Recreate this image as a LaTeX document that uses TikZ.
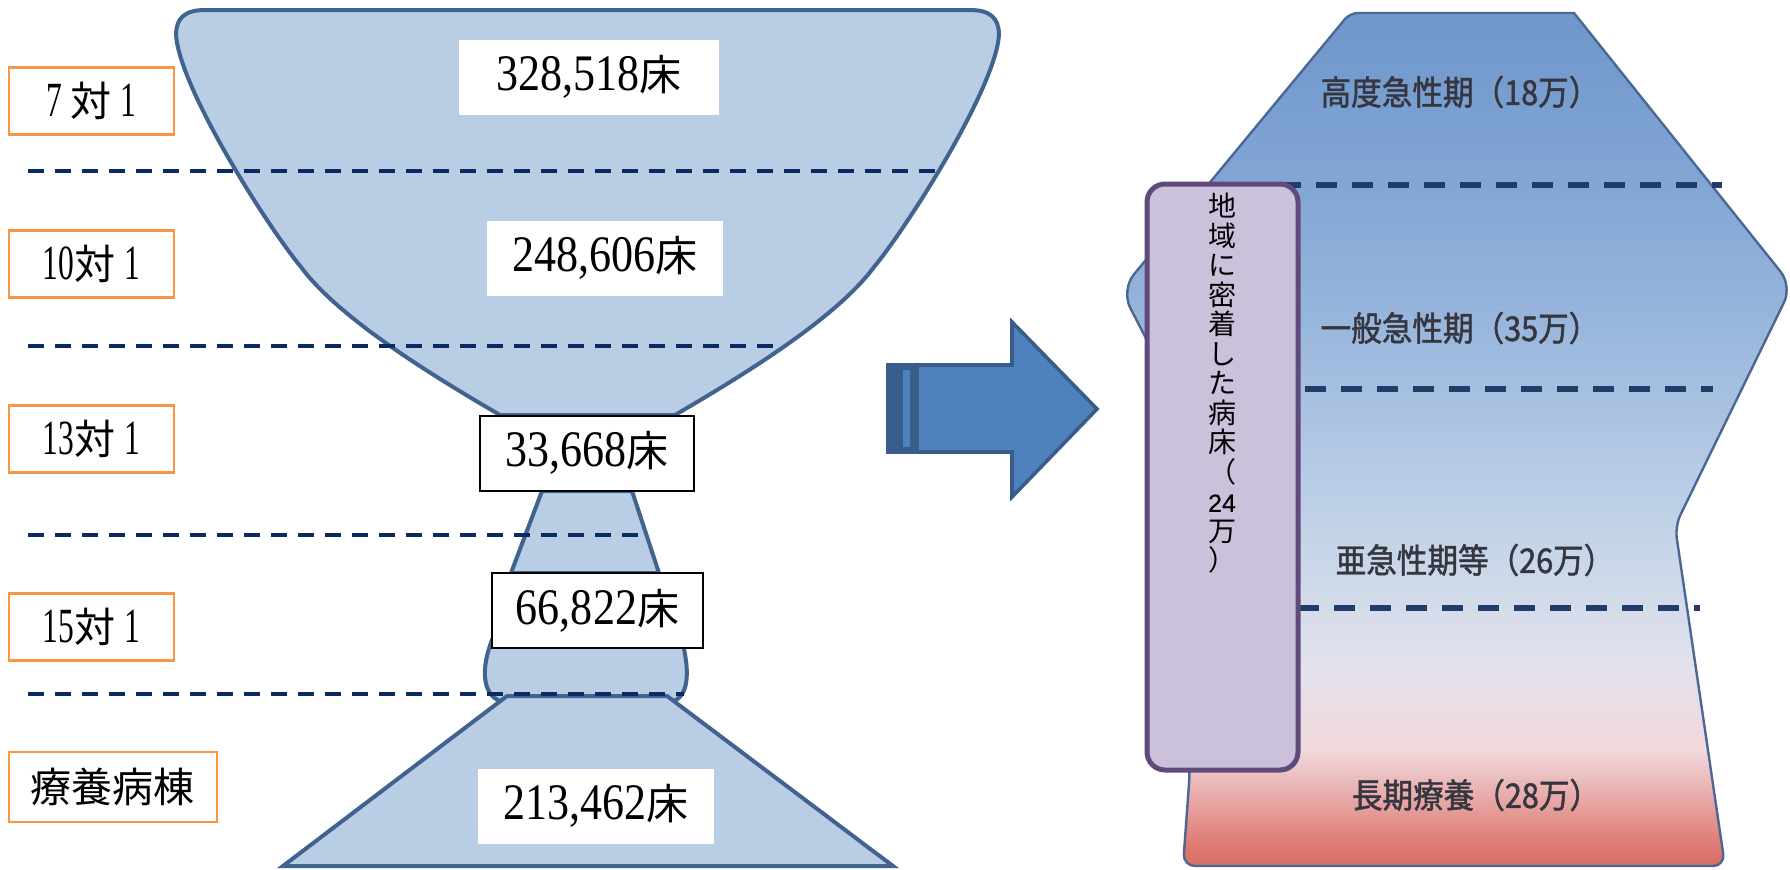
\documentclass[tikz,border=0pt]{standalone}
\usepackage{fontspec}
\setmainfont{Liberation Serif}
\newfontfamily\cjk{Noto Sans CJK JP}
\newfontfamily\numfont[Scale=1.22,FakeStretch=0.86]{Liberation Serif}
\newfontfamily\labnum[Scale=1.2,FakeStretch=0.64]{Liberation Serif}
\newfontfamily\stagefont[FakeStretch=0.9,FakeBold=1.4]{Noto Sans CJK JP}
\newfontfamily\arial[FakeBold=0.5]{Liberation Sans}
\usepackage{tikz}

\definecolor{cupfill}{HTML}{B9CDE5}
\definecolor{cupline}{HTML}{41638F}
\definecolor{navy}{HTML}{0B2A63}
\definecolor{wardline}{HTML}{F79646}
\definecolor{arrowfill}{HTML}{4F81BD}
\definecolor{arrowline}{HTML}{385D8A}
\definecolor{localfill}{HTML}{CCC1DA}
\definecolor{localline}{HTML}{604A7B}
\definecolor{stageline}{HTML}{1F3D68}
\definecolor{stagetext}{HTML}{35363F}
\definecolor{shapeline}{HTML}{4A6893}
\definecolor{bedA}{HTML}{6F97CC}
\definecolor{bedB}{HTML}{82A6D4}
\definecolor{bedC}{HTML}{9AB7DD}
\definecolor{bedD}{HTML}{C2D3E8}
\definecolor{bedE}{HTML}{E4E2EC}
\definecolor{bedF}{HTML}{F0D8DC}
\definecolor{bedG}{HTML}{E9B2B2}
\definecolor{bedH}{HTML}{DF8078}
\definecolor{bedI}{HTML}{D86C62}

\pgfdeclareverticalshading{bedshade}{100bp}{color(0bp)=(bedI); color(25bp)=(bedI);
  color(26.6bp)=(bedH); color(29.5bp)=(bedG); color(31.8bp)=(bedF);
  color(36.5bp)=(bedE); color(44.7bp)=(bedD); color(56.4bp)=(bedC);
  color(64.9bp)=(bedB); color(75bp)=(bedA); color(100bp)=(bedA)}

\newcommand\beds[1]{{\numfont #1}{\cjk 床}}

\tikzstyle{cupshape} = [fill=cupfill, draw=cupline, line width=2pt]
\tikzstyle{gridline} = [draw=navy, line width=2pt, dash pattern=on 8pt off 5.5pt]
\tikzstyle{wardbox} = [rectangle, draw=wardline, line width=1.2pt, fill=white,
                 minimum width=82.5pt, minimum height=33.5pt, inner sep=0pt,
                 font=\fontsize{20.5}{24}\selectfont]
\tikzstyle{bedcount} = [rectangle, fill=white, minimum height=37.5pt, inner sep=0pt,
                 font=\fontsize{21}{25}\selectfont]
\tikzstyle{bedframe} = [bedcount, draw=black, line width=1pt]
\tikzstyle{arrowbody} = [fill=arrowfill, draw=arrowline, line width=1.8pt]
\tikzstyle{bedshape} = [shading=bedshade, draw=shapeline, line width=1.2pt]
\tikzstyle{stageline} = [draw=stageline, line width=3pt, dash pattern=on 10.5pt off 7.5pt]
\tikzstyle{stagelabel} = [text=stagetext, inner sep=0pt,
                 font=\fontsize{17}{20}\selectfont\stagefont]
\tikzstyle{localbox} = [rectangle, rounded corners=9pt, fill=localfill, draw=localline,
                 line width=2.5pt, minimum width=75.5pt, minimum height=293pt]
\tikzstyle{localtext} = [anchor=north, align=center, inner sep=0pt,
                 font=\fontsize{14}{14.75}\selectfont\cjk]

\begin{document}
\begin{tikzpicture}[x=0.5pt,y=-0.5pt]
\useasboundingbox (0,0) rectangle (1790,869);
\fill [white] (0,0) rectangle (1790,869);

% present wards
\path [cupshape] (500,415) .. controls (440,380) and (340,320) .. (301,267)
   .. controls (270,230) and (180,90) .. (176,35)
   .. controls (176,18) and (185,10) .. (205,10) -- (970,10)
   .. controls (990,10) and (999,18) .. (999,35)
   .. controls (995,90) and (905,230) .. (874,267)
   .. controls (835,320) and (735,380) .. (675,415) -- cycle;
\path [cupshape] (542,491) -- (511,573) -- (659,573) -- (632,491) -- cycle;
\path [cupshape] (492,640) .. controls (481,668) and (482,694) .. (500,701)
   -- (674,701) .. controls (690,694) and (689,668) .. (682,640) -- cycle;
\path [cupshape] (507,696) -- (667,696) -- (893,866) -- (283,866) -- cycle;

\foreach \y/\x in {171/936, 346/776, 535/643, 694/684}
	\draw [gridline] (28,\y) -- (\x,\y);

\node [bedcount, minimum width=130pt] at (589,77) (n7) {\beds{328,518}};
\node [bedcount, minimum width=118pt] at (605,258) (n10) {\beds{248,606}};
\node [bedframe, minimum width=107pt] at (587,453) (n13) {\beds{33,668}};
\node [bedframe, minimum width=105.5pt] at (597.5,610.5) (n15) {\beds{66,822}};
\node [bedcount, minimum width=118pt] at (596,806) (nlt) {\beds{213,462}};

\foreach \y/\label in {101/{\labnum 7 \cjk 対 \labnum 1}, 264/{\labnum 10\cjk 対 \labnum 1},
                       439/{\labnum 13\cjk 対 \labnum 1}, 627/{\labnum 15\cjk 対 \labnum 1}}
	\node [wardbox] (ward\y) at (91.5,\y) {\label};
\node [wardbox, minimum width=104pt, minimum height=35pt] (ltc) at (113,787) {\cjk 療養病棟};

% arrow
\path [arrowbody] (888,365) -- (1012,365) -- (1012,322) -- (1097,409)
   -- (1012,497) -- (1012,452) -- (888,452) -- cycle;
\fill [arrowline] (888,365) rectangle (919,452);
\fill [arrowfill] (903,370) rectangle (910,447);

% future functions
\path [bedshape] (1460,13) -- (1574,13) [rounded corners=9pt] -- (1792,286)
   [rounded corners=6pt] -- (1675,526) -- (1725,866) -- (1183,866) -- (1190,770)
   -- (1152,350) [rounded corners=10pt] -- (1121,290) [rounded corners=4pt]
   -- (1350,13) -- cycle;

\foreach \y/\a/\b in {185/1280/1722, 389/1305/1713, 608/1298/1700}
	\draw [stageline] (\a,\y) -- (\b,\y);

\node [stagelabel] (acute1) at (1460,92) {高度急性期（18万）};
\node [stagelabel] (acute2) at (1460,328) {一般急性期（35万）};
\node [stagelabel] (subacute) at (1475,560) {亜急性期等（26万）};
\node [stagelabel] (longterm) at (1476,795) {長期療養（28万）};

\node [localbox] (local) at (1222.5,477) {};
\node [localtext] (localtxt) at (1222,193)
	{地\\域\\に\\密\\着\\し\\た\\病\\床\\（\\{\arial\fontsize{12.5}{14.75}\selectfont 24}\\万\\）};

\end{tikzpicture}
\end{document}
